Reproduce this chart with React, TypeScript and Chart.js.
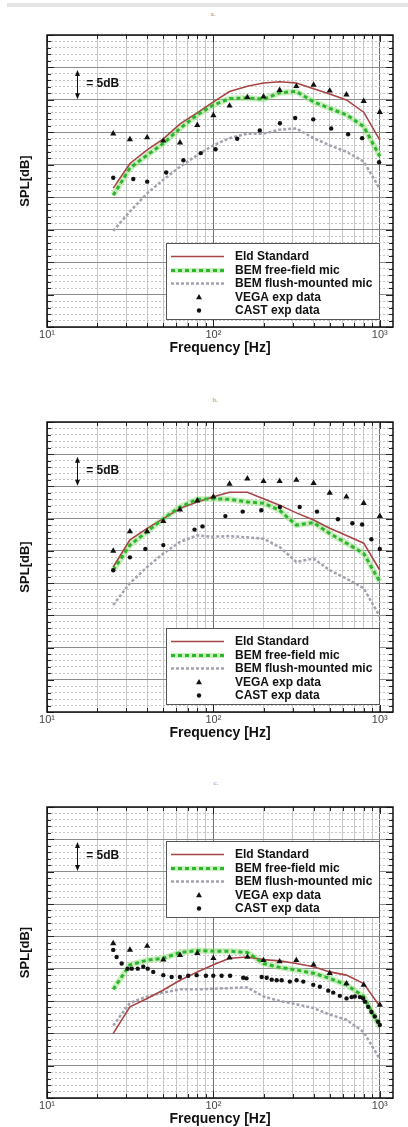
import React, { useEffect, useRef } from 'react';
import { Chart, registerables } from 'chart.js';

Chart.register(...registerables);

// ---------- data ----------
const bandFreqs = [25, 31.5, 40, 50, 63, 80, 100, 125, 160, 200, 250, 315, 400, 500, 630, 800, 1000];

// panel a
const eldA = [21.4, 25.2, 27.3, 29.0, 31.3, 33.0, 34.7, 36.3, 37.1, 37.6, 37.8, 37.6, 36.7, 35.9, 35.0, 33.1, 28.8];
const freeA = [20.3, 24.5, 26.5, 28.3, 30.6, 32.7, 34.2, 35.2, 35.3, 35.1, 36.1, 36.3, 34.7, 33.7, 32.7, 30.9, 26.3];
const flushA = [14.8, 17.8, 20.6, 22.7, 24.7, 26.5, 28.0, 29.1, 29.8, 29.8, 30.4, 30.6, 29.1, 28.0, 27.0, 25.5, 21.3];
const vegaA = [29.8, 28.9, 29.2, 28.7, 28.4, 31.1, 32.6, 34.1, 35.4, 35.5, 36.5, 37.1, 37.3, 36.4, 35.8, 34.8, 33.1];
const castFreqA = [25, 33, 40, 52, 66, 84, 103, 139, 190, 251, 310, 398, 510, 645, 783, 990];
const castA = [23.0, 22.8, 22.4, 23.8, 25.7, 26.8, 27.4, 29.0, 30.3, 31.4, 32.2, 32.0, 30.6, 29.7, 29.1, 25.4];

// panel b
const eldB = [22.5, 26.7, 28.5, 30.0, 31.6, 32.6, 33.4, 34.1, 34.1, 33.1, 32.1, 30.9, 29.8, 28.5, 27.4, 26.2, 22.0];
const freeB = [22.0, 25.9, 28.0, 30.0, 31.8, 33.0, 33.1, 33.0, 32.6, 32.4, 31.3, 29.0, 29.4, 27.7, 26.2, 24.6, 20.2];
const flushB = [16.6, 20.0, 22.5, 24.6, 26.4, 27.4, 27.2, 27.3, 27.1, 26.9, 25.6, 23.3, 23.8, 22.0, 20.7, 19.2, 14.8];
const vegaB = [25.0, 28.0, 28.0, 29.6, 31.4, 32.8, 33.4, 35.4, 36.2, 35.8, 35.8, 36.0, 35.5, 34.0, 33.4, 32.4, 30.4];
const castFreqB = [25, 31.5, 39, 50, 77, 86, 118, 150, 194, 251, 330, 419, 560, 684, 783, 890, 1000];
const castB = [22.0, 24.0, 25.3, 25.9, 28.3, 28.8, 30.4, 31.1, 31.3, 31.8, 31.8, 31.1, 29.9, 29.3, 29.1, 26.8, 25.3];

// panel c
const eldC = [10.0, 14.1, 15.4, 16.7, 18.2, 19.5, 20.6, 21.6, 21.8, 21.4, 21.2, 20.8, 20.3, 19.5, 19.0, 17.7, 14.2];
const freeC = [16.8, 20.6, 21.3, 21.6, 22.5, 22.8, 22.7, 22.7, 22.5, 20.8, 20.2, 19.8, 19.3, 18.5, 17.5, 15.7, 11.0];
const flushC = [11.2, 14.7, 15.7, 16.3, 16.8, 16.8, 16.9, 17.0, 17.1, 15.7, 15.0, 14.5, 13.9, 12.9, 12.1, 10.2, 6.0];
const vegaC = [23.9, 22.9, 23.5, 21.4, 22.1, 22.4, 21.6, 21.7, 21.8, 21.3, 21.1, 21.3, 20.6, 19.3, 17.7, 17.5, 14.4];
const castFreqC = [25, 26.2, 28.1, 30.5, 32.3, 35.1, 37.9, 40.3, 43.5, 50, 56.1, 62.9, 70.6, 79.3, 90.2, 99.8, 112, 126, 151, 158, 195, 209, 224, 240, 257, 288, 316, 347, 398, 436, 490, 525, 575, 631, 676, 708, 759, 794, 813, 851, 891, 933, 977, 1000];
const castC = [22.9, 21.8, 20.8, 20.0, 20.0, 20.0, 20.3, 20.0, 19.5, 19.0, 18.7, 18.7, 18.9, 19.0, 18.9, 18.9, 18.9, 18.9, 18.6, 18.5, 18.7, 18.6, 18.3, 18.2, 18.2, 18.0, 18.2, 18.0, 17.5, 17.2, 16.6, 16.3, 15.8, 15.4, 15.6, 15.7, 15.6, 15.4, 14.9, 14.1, 13.3, 12.6, 11.8, 11.3];

// axes / ticks
const xTickValues = [10, 20, 30, 40, 50, 60, 70, 80, 90, 100, 200, 300, 400, 500, 600, 700, 800, 900, 1000];
const xMajor = [10, 100, 1000];
const xTickLabels: Record<number, string> = { 10: '10¹', 100: '10²', 1000: '10³' };
const yMajorTicks = [0, 5, 10, 15, 20, 25, 30, 35, 40, 45];
const yMinorTicks = Array.from({ length: 46 }, (_, i) => i).filter((v) => v % 5 !== 0);
const legendLabels = ['Eld Standard', 'BEM free-field mic', 'BEM flush-mounted mic', 'VEGA exp data', 'CAST exp data'];

// ---------- styling ----------
const FONT = '"Liberation Sans", Arial, Helvetica, sans-serif';
const RED = '#a84444';
const GREEN = '#2eb52e';
const GREEN_HALO = 'rgba(150,226,130,0.5)';
const GRAY = '#a2a2b0';
const PAD_TOP = 35;
const AXIS_H = 33;
const Y_W = 47;
const PAD_R = 15;

type Panel = {
  label: string;
  labelX: number;
  labelY: number;
  top: number;
  plotH: number;
  legendTop: number;
  eld: number[];
  free: number[];
  flush: number[];
  vega: number[];
  castF: number[];
  cast: number[];
};

const panels: Panel[] = [
  { label: 'a.', labelX: 213, labelY: 14, top: 35, plotH: 292, legendTop: 208, eld: eldA, free: freeA, flush: flushA, vega: vegaA, castF: castFreqA, cast: castA },
  { label: 'b.', labelX: 215, labelY: 400, top: 422, plotH: 290, legendTop: 206, eld: eldB, free: freeB, flush: flushB, vega: vegaB, castF: castFreqB, cast: castB },
  { label: 'c.', labelX: 216, labelY: 783, top: 807, plotH: 291, legendTop: 34, eld: eldC, free: freeC, flush: flushC, vega: vegaC, castF: castFreqC, cast: castC },
];

function pts(xs: number[], ys: number[]) {
  return xs.map((x, i) => ({ x, y: ys[i] }));
}

function drawTriangle(ctx: CanvasRenderingContext2D, x: number, y: number, r: number) {
  let rad = 0;
  ctx.beginPath();
  ctx.moveTo(x + Math.sin(rad) * r, y - Math.cos(rad) * r);
  rad += (2 * Math.PI) / 3;
  ctx.lineTo(x + Math.sin(rad) * r, y - Math.cos(rad) * r);
  rad += (2 * Math.PI) / 3;
  ctx.lineTo(x + Math.sin(rad) * r, y - Math.cos(rad) * r);
  ctx.closePath();
  ctx.fill();
}

function makeOverlay(p: Panel) {
  return {
    id: 'overlay',
    afterDatasetsDraw(chart: any) {
      const ctx: CanvasRenderingContext2D = chart.ctx;
      const a = chart.chartArea;
      const xs = chart.scales.x;
      const ys = chart.scales.y;
      ctx.save();

      // inward tick marks
      ctx.strokeStyle = '#222';
      ctx.lineWidth = 1;
      ctx.setLineDash([]);
      ctx.beginPath();
      for (let v = 0; v <= 45; v++) {
        const py = Math.round(ys.getPixelForValue(v)) + 0.5;
        const len = v % 5 === 0 ? 7 : 4;
        ctx.moveTo(a.left, py);
        ctx.lineTo(a.left + len, py);
        ctx.moveTo(a.right, py);
        ctx.lineTo(a.right - len, py);
      }
      for (const v of xTickValues) {
        const px = Math.round(xs.getPixelForValue(v)) + 0.5;
        const len = xMajor.includes(v) ? 7 : 4;
        ctx.moveTo(px, a.bottom);
        ctx.lineTo(px, a.bottom - len);
        ctx.moveTo(px, a.top);
        ctx.lineTo(px, a.top + len);
      }
      ctx.stroke();

      // frame
      ctx.strokeStyle = '#111';
      ctx.lineWidth = 1.5;
      ctx.strokeRect(a.left, a.top, a.right - a.left, a.bottom - a.top);

      // "= 5dB" scale arrow
      const ax = Math.round(xs.getPixelForValue(15.1)) + 0.5;
      const y1 = ys.getPixelForValue(39.6);
      const y2 = ys.getPixelForValue(35.1);
      ctx.strokeStyle = '#111';
      ctx.fillStyle = '#111';
      ctx.lineWidth = 1;
      ctx.beginPath();
      ctx.moveTo(ax, y1 + 3);
      ctx.lineTo(ax, y2 - 3);
      ctx.stroke();
      ctx.beginPath();
      ctx.moveTo(ax, y1);
      ctx.lineTo(ax - 2.5, y1 + 6);
      ctx.lineTo(ax + 2.5, y1 + 6);
      ctx.closePath();
      ctx.fill();
      ctx.beginPath();
      ctx.moveTo(ax, y2);
      ctx.lineTo(ax - 2.5, y2 - 6);
      ctx.lineTo(ax + 2.5, y2 - 6);
      ctx.closePath();
      ctx.fill();
      ctx.font = `bold 12px ${FONT}`;
      ctx.textAlign = 'left';
      ctx.textBaseline = 'middle';
      ctx.fillText('= 5dB', xs.getPixelForValue(17.2), ys.getPixelForValue(37.5));

      // legend
      const bx = a.left + 119;
      const by = a.top + p.legendTop;
      const bw = 213;
      const bh = 76;
      ctx.fillStyle = '#fff';
      ctx.fillRect(bx, by, bw, bh);
      ctx.strokeStyle = '#555';
      ctx.lineWidth = 1;
      ctx.strokeRect(bx + 0.5, by + 0.5, bw, bh);
      const sx1 = bx + 5;
      const sx2 = bx + 58;
      const mx = bx + 33;
      legendLabels.forEach((text, i) => {
        const ey = Math.round(by + 13 + i * 13.6) + 0.5;
        ctx.setLineDash([]);
        if (i === 0) {
          ctx.strokeStyle = RED;
          ctx.lineWidth = 1.6;
          ctx.beginPath();
          ctx.moveTo(sx1, ey);
          ctx.lineTo(sx2, ey);
          ctx.stroke();
        } else if (i === 1) {
          ctx.strokeStyle = GREEN_HALO;
          ctx.lineWidth = 5;
          ctx.beginPath();
          ctx.moveTo(sx1, ey);
          ctx.lineTo(sx2, ey);
          ctx.stroke();
          ctx.strokeStyle = GREEN;
          ctx.lineWidth = 3;
          ctx.setLineDash([4, 3]);
          ctx.beginPath();
          ctx.moveTo(sx1, ey);
          ctx.lineTo(sx2, ey);
          ctx.stroke();
        } else if (i === 2) {
          ctx.strokeStyle = GRAY;
          ctx.lineWidth = 2.5;
          ctx.setLineDash([3, 2]);
          ctx.beginPath();
          ctx.moveTo(sx1, ey);
          ctx.lineTo(sx2, ey);
          ctx.stroke();
        } else if (i === 3) {
          ctx.fillStyle = '#111';
          drawTriangle(ctx, mx, ey, 3.4);
        } else {
          ctx.fillStyle = '#111';
          ctx.beginPath();
          ctx.arc(mx, ey, 2.2, 0, Math.PI * 2);
          ctx.fill();
        }
        ctx.setLineDash([]);
        ctx.fillStyle = '#111';
        ctx.font = `bold 12px ${FONT}`;
        ctx.textAlign = 'left';
        ctx.textBaseline = 'middle';
        ctx.fillText(text, bx + 69, ey);
      });

      ctx.restore();
    },
  };
}

function buildConfig(p: Panel): any {
  return {
    type: 'scatter',
    data: {
      datasets: [
        {
          label: 'CAST exp data',
          data: pts(p.castF, p.cast),
          showLine: false,
          pointStyle: 'circle',
          pointRadius: 2.2,
          backgroundColor: '#111',
          borderColor: '#111',
          borderWidth: 0,
        },
        {
          label: 'VEGA exp data',
          data: pts(bandFreqs, p.vega),
          showLine: false,
          pointStyle: 'triangle',
          pointRadius: 3.6,
          backgroundColor: '#111',
          borderColor: '#111',
          borderWidth: 0,
        },
        {
          label: 'BEM free-field mic',
          data: pts(bandFreqs, p.free),
          showLine: true,
          pointRadius: 0,
          borderColor: GREEN,
          borderWidth: 3,
          borderDash: [4, 3],
          fill: false,
        },
        {
          label: 'Eld Standard',
          data: pts(bandFreqs, p.eld),
          showLine: true,
          pointRadius: 0,
          borderColor: RED,
          borderWidth: 1.6,
          fill: false,
        },
        {
          label: 'BEM free-field mic halo',
          data: pts(bandFreqs, p.free),
          showLine: true,
          pointRadius: 0,
          borderColor: GREEN_HALO,
          borderWidth: 6,
          fill: false,
        },
        {
          label: 'BEM flush-mounted mic',
          data: pts(bandFreqs, p.flush),
          showLine: true,
          pointRadius: 0,
          borderColor: GRAY,
          borderWidth: 2.5,
          borderDash: [3, 2],
          fill: false,
        },
      ],
    },
    options: {
      responsive: false,
      animation: false,
      devicePixelRatio: 1,
      events: [],
      layout: { padding: { top: PAD_TOP, right: PAD_R, left: 0, bottom: 0 } },
      plugins: { legend: { display: false }, tooltip: { enabled: false } },
      scales: {
        x: {
          type: 'logarithmic',
          position: 'bottom',
          min: 10,
          max: 1200,
          afterBuildTicks: (s: any) => {
            s.ticks = xTickValues.map((v) => ({ value: v }));
          },
          afterFit: (s: any) => {
            s.height = AXIS_H;
          },
          grid: {
            drawTicks: false,
            lineWidth: 1,
            color: (c: any) => (c.tick && xMajor.includes(c.tick.value) ? '#707070' : '#c8c8c8'),
          },
          border: { display: false },
          ticks: {
            autoSkip: false,
            maxRotation: 0,
            minRotation: 0,
            padding: 1,
            color: '#444',
            font: { family: FONT, size: 11 },
            callback: (v: any) => xTickLabels[Number(v)] ?? '',
          },
          title: {
            display: true,
            text: 'Frequency [Hz]',
            color: '#111',
            font: { family: FONT, size: 14, weight: 'bold' },
            padding: { top: 0, bottom: 3.3 },
          },
        },
        ym: {
          type: 'linear',
          position: 'left',
          min: 0,
          max: 45,
          afterBuildTicks: (s: any) => {
            s.ticks = yMinorTicks.map((v) => ({ value: v }));
          },
          afterFit: (s: any) => {
            s.width = 0;
          },
          grid: { drawTicks: false, color: '#c4c4c4', lineWidth: 1, z: -1 },
          border: { display: false, dash: [2, 2] },
          ticks: { display: false },
        },
        y: {
          type: 'linear',
          position: 'left',
          min: 0,
          max: 45,
          afterBuildTicks: (s: any) => {
            s.ticks = yMajorTicks.map((v) => ({ value: v }));
          },
          afterFit: (s: any) => {
            s.width = Y_W;
          },
          grid: { drawTicks: false, color: '#8c8c8c', lineWidth: 1 },
          border: { display: false },
          ticks: { display: false },
          title: {
            display: true,
            text: 'SPL[dB]',
            color: '#111',
            font: { family: FONT, size: 13, weight: 'bold' },
            padding: { top: 17.2, bottom: 0 },
          },
        },
      },
    },
    plugins: [makeOverlay(p)],
  };
}

function PanelChart({ p }: { p: Panel }) {
  const ref = useRef<HTMLCanvasElement>(null);
  useEffect(() => {
    if (!ref.current) return;
    const chart = new Chart(ref.current, buildConfig(p));
    return () => chart.destroy();
  }, [p]);
  const h = PAD_TOP + p.plotH + AXIS_H;
  return (
    <>
      <span
        style={{
          position: 'absolute',
          left: p.labelX,
          top: p.labelY,
          transform: 'translate(-50%, -50%)',
          font: '7px serif',
          color: '#888',
          whiteSpace: 'nowrap',
        }}
      >
        {p.label}
      </span>
      <canvas
        ref={ref}
        width={408}
        height={h}
        style={{ position: 'absolute', left: 0, top: p.top - PAD_TOP, width: 408, height: h }}
      />
    </>
  );
}

export default function App() {
  return (
    <div style={{ position: 'absolute', left: 0, top: 0, width: 408, height: 1127, background: '#fff', overflow: 'hidden' }}>
      <div style={{ position: 'absolute', left: 7, top: 3, width: 401, height: 4, background: '#e4e4e4' }} />
      {panels.map((p) => (
        <PanelChart key={p.label} p={p} />
      ))}
    </div>
  );
}
